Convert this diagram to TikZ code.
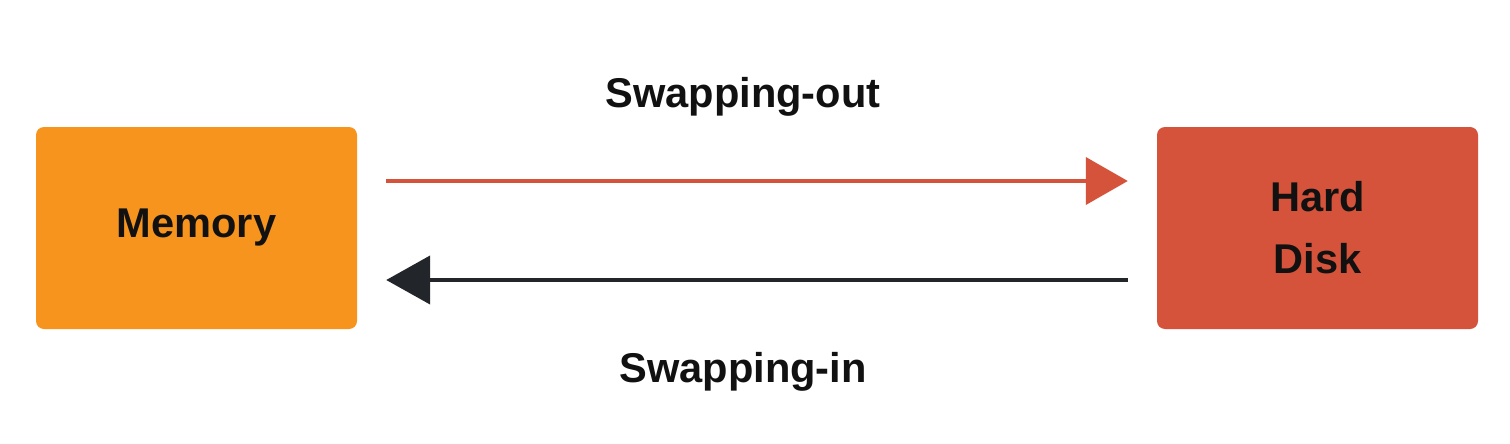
\documentclass[tikz,border=0pt]{standalone}
\usepackage{fontspec}
\setmainfont{Liberation Sans}
\usetikzlibrary{arrows.meta}
\definecolor{memorange}{HTML}{F7941D}
\definecolor{diskred}{HTML}{D4533A}
\definecolor{darkarrow}{HTML}{22262B}
\definecolor{txt}{HTML}{111111}
\tikzset{
  box/.style={rounded corners=8pt, minimum width=321pt, minimum height=202pt, inner sep=0pt, align=center, text=txt, font=\fontsize{41.6}{62}\selectfont\bfseries},
  lbl/.style={anchor=base, inner sep=0pt, text=txt, font=\fontsize{41.6}{50}\selectfont\bfseries},
  outarrow/.style={draw=diskred, line width=4pt, -{Triangle[length=42pt,width=47pt]}},
  inarrow/.style={draw=darkarrow, line width=4.5pt, -{Triangle[length=44pt,width=48pt]}}
}
\begin{document}
\begin{tikzpicture}[x=1pt,y=-1pt]
\useasboundingbox[fill=white] (0,0) rectangle (1510,444);
\node[box, fill=memorange] (mem) at (196.5,228) {Memory};
\node[box, fill=diskred] (disk) at (1317.5,228) {Hard\\Disk};
\coordinate (outA) at ([xshift=29pt,yshift=47pt]mem.east);
\coordinate (outB) at ([xshift=-29pt,yshift=47pt]disk.west);
\coordinate (inA) at ([xshift=-29pt,yshift=-52pt]disk.west);
\coordinate (inB) at ([xshift=29pt,yshift=-52pt]mem.east);
\draw[outarrow] (outA) -- (outB);
\draw[inarrow] (inA) -- (inB);
\node[lbl] (lout) at (743,107) {Swapping-out};
\node[lbl] (lin) at (743,382) {Swapping-in};
\end{tikzpicture}
\end{document}
